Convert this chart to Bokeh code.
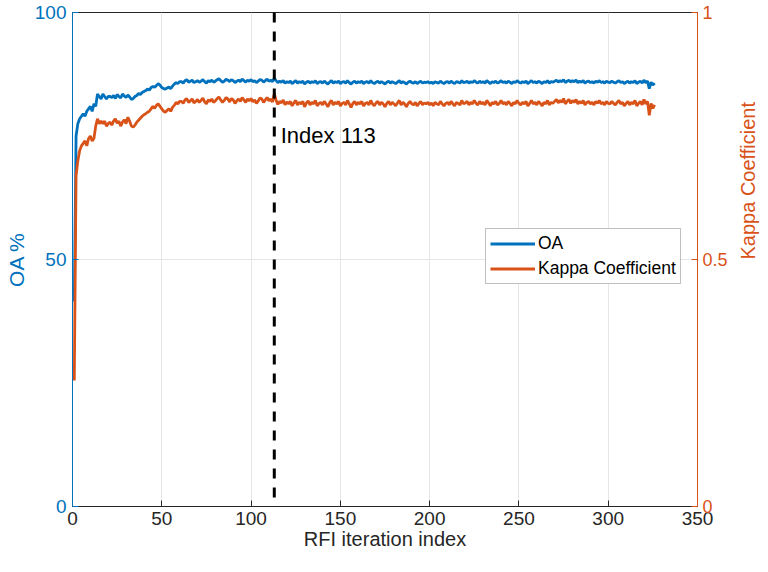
import math
from bokeh.plotting import figure
from bokeh.models import Range1d, LinearAxis, Span, Legend, LegendItem, FixedTicker, Label
from bokeh.embed import file_html
from bokeh.resources import INLINE

# ---------------- data ----------------
oa_pct = [
    41.5, 75.0, 77.5, 78.5, 79.0, 79.5, 79.0, 80.0, 80.5, 81.0,
    80.0, 81.5, 81.0, 83.5, 83.0, 82.5, 83.5, 83.0, 82.5, 83.0,
    83.0, 82.8, 83.2, 82.6, 83.4, 83.0, 82.7, 83.5, 83.1, 82.8,
    83.3, 82.9, 82.4, 82.6, 83.0, 83.2, 83.6, 83.4, 83.8, 84.0,
    84.2, 84.5, 84.3, 84.8, 85.0, 84.9, 85.2, 85.6, 85.3, 84.8,
    84.6, 84.5, 84.7, 84.9, 84.6, 85.1, 85.5, 85.8, 85.6, 86.0,
    86.0, 85.7, 86.2, 86.4, 85.9, 86.1, 86.3, 85.8, 86.0, 86.2,
    85.9, 86.1, 86.4, 86.0, 85.7, 86.2, 86.0, 86.3, 85.9, 86.1,
    86.4, 86.6, 86.2, 85.9, 86.1, 86.5, 86.3, 86.0, 86.4, 86.2,
    85.8, 86.1, 86.3, 86.0, 86.5, 86.2, 85.9, 86.3, 86.1, 86.4,
    86.0, 86.2, 85.8, 86.1, 86.4, 86.3, 85.9, 86.2, 86.5, 86.1,
    86.3, 86.0, 86.7, 86.2, 85.8, 86.1, 85.9, 86.2, 85.7, 86.0,
    85.8, 86.1, 85.6, 85.9, 86.2, 85.7, 86.0, 85.8, 86.1, 85.5,
    85.9, 86.1, 85.7, 86.0, 85.8, 86.2, 85.6, 85.9, 86.0, 85.7,
    86.1, 85.8, 85.5, 85.9, 86.2, 85.7, 86.0, 85.8, 86.1, 85.6,
    85.9, 86.0, 85.7, 86.2, 85.8, 85.5, 85.9, 86.1, 85.7, 86.0,
    85.8, 86.1, 85.6, 85.9, 86.0, 85.7, 86.2, 85.8, 85.6, 85.9,
    86.1, 85.7, 86.0, 85.8, 85.5, 85.9, 86.1, 85.7, 86.0, 85.8,
    85.6, 85.9, 86.2, 85.7, 86.0, 85.8, 85.5, 85.9, 86.1, 85.8,
    85.7, 86.0, 85.6, 85.9, 86.1, 85.7, 85.9, 85.8, 86.0, 85.7,
    85.9, 85.6, 86.0, 85.8, 85.7, 86.1, 85.8, 85.6, 85.9, 86.0,
    85.7, 86.1, 85.8, 85.6, 86.0, 85.9, 85.7, 86.2, 85.8, 85.9,
    86.1, 85.7, 86.0, 85.8, 86.2, 85.9, 85.7, 86.1, 85.8, 86.0,
    85.7, 86.2, 85.9, 85.6, 86.0, 85.8, 86.1, 85.7, 85.9, 86.2,
    85.8, 86.0, 85.7, 86.1, 85.9, 85.6, 86.0, 85.8, 86.2, 85.9,
    85.7, 86.0, 85.8, 86.1, 85.6, 85.9, 86.2, 85.8, 86.0, 85.7,
    86.1, 85.9, 85.6, 86.0, 85.8, 86.2, 85.7, 86.0, 85.9, 86.1,
    86.3, 85.9, 86.2, 86.0, 86.4, 85.8, 86.1, 86.3, 85.9, 86.2,
    86.0, 86.3, 85.8, 86.1, 85.9, 86.2, 85.7, 86.0, 86.1, 85.8,
    86.0, 85.7, 86.1, 85.9, 86.2, 85.8, 86.0, 85.7, 86.1, 85.9,
    85.8, 86.1, 85.9, 85.7, 86.0, 86.2, 85.8, 86.0, 85.6, 85.9,
    86.1, 85.7, 86.0, 85.8, 86.2, 85.6, 85.9, 86.1, 85.7, 86.3,
    85.8, 86.1, 84.6, 85.9, 85.3, 85.7,
]

kappa = [
    0.255, 0.670, 0.700, 0.720, 0.730, 0.735, 0.740, 0.730, 0.745, 0.750,
    0.740, 0.745, 0.770, 0.785, 0.775, 0.780, 0.775, 0.780, 0.770, 0.775,
    0.778, 0.772, 0.780, 0.785, 0.776, 0.780, 0.770, 0.778, 0.783, 0.775,
    0.788, 0.780, 0.770, 0.768, 0.772, 0.778, 0.782, 0.786, 0.790, 0.793,
    0.795, 0.798, 0.800, 0.805, 0.810, 0.806, 0.812, 0.815, 0.810, 0.805,
    0.800, 0.798, 0.802, 0.805, 0.800, 0.808, 0.812, 0.818, 0.815, 0.820,
    0.820, 0.816, 0.823, 0.826, 0.818, 0.821, 0.825, 0.817, 0.820, 0.824,
    0.818, 0.822, 0.827, 0.819, 0.815, 0.823, 0.820, 0.825, 0.818, 0.821,
    0.826, 0.829, 0.823, 0.818, 0.822, 0.828, 0.825, 0.819, 0.826, 0.823,
    0.816, 0.821, 0.825, 0.820, 0.828, 0.823, 0.818, 0.825, 0.821, 0.826,
    0.819, 0.823, 0.816, 0.821, 0.827, 0.825, 0.818, 0.823, 0.828, 0.821,
    0.825, 0.819, 0.836, 0.822, 0.814, 0.820, 0.817, 0.823, 0.813, 0.819,
    0.815, 0.820, 0.811, 0.817, 0.822, 0.813, 0.818, 0.815, 0.820, 0.809,
    0.817, 0.821, 0.813, 0.818, 0.815, 0.822, 0.811, 0.816, 0.818, 0.813,
    0.820, 0.815, 0.809, 0.817, 0.822, 0.813, 0.818, 0.815, 0.820, 0.811,
    0.816, 0.818, 0.813, 0.822, 0.815, 0.808, 0.816, 0.820, 0.813, 0.818,
    0.815, 0.820, 0.811, 0.816, 0.818, 0.813, 0.822, 0.815, 0.811, 0.817,
    0.820, 0.813, 0.818, 0.815, 0.809, 0.816, 0.820, 0.813, 0.818, 0.815,
    0.811, 0.817, 0.822, 0.813, 0.818, 0.815, 0.809, 0.816, 0.820, 0.815,
    0.813, 0.818, 0.811, 0.816, 0.820, 0.813, 0.817, 0.815, 0.818, 0.813,
    0.817, 0.811, 0.818, 0.815, 0.813, 0.820, 0.815, 0.811, 0.816, 0.818,
    0.813, 0.820, 0.815, 0.811, 0.818, 0.816, 0.813, 0.822, 0.815, 0.817,
    0.820, 0.813, 0.818, 0.815, 0.822, 0.816, 0.813, 0.820, 0.815, 0.818,
    0.813, 0.822, 0.817, 0.811, 0.818, 0.815, 0.820, 0.813, 0.816, 0.822,
    0.815, 0.818, 0.813, 0.820, 0.816, 0.811, 0.818, 0.815, 0.822, 0.816,
    0.813, 0.818, 0.815, 0.820, 0.811, 0.816, 0.822, 0.815, 0.818, 0.813,
    0.820, 0.816, 0.811, 0.818, 0.815, 0.822, 0.813, 0.818, 0.816, 0.820,
    0.824, 0.817, 0.822, 0.818, 0.826, 0.815, 0.820, 0.824, 0.816, 0.822,
    0.818, 0.824, 0.815, 0.820, 0.816, 0.822, 0.813, 0.818, 0.820, 0.815,
    0.818, 0.813, 0.820, 0.816, 0.822, 0.815, 0.818, 0.813, 0.820, 0.816,
    0.815, 0.820, 0.816, 0.813, 0.818, 0.822, 0.815, 0.818, 0.811, 0.816,
    0.820, 0.813, 0.818, 0.815, 0.822, 0.811, 0.816, 0.820, 0.813, 0.824,
    0.815, 0.820, 0.792, 0.816, 0.806, 0.813,
]

iteration = list(range(1, len(oa_pct) + 1))
best_index = 113
x_ticks = [0, 50, 100, 150, 200, 250, 300, 350]
oa_ticks = [0, 50, 100]
kappa_ticks = [0, 0.5, 1]

BLUE = "#0072BD"
ORANGE = "#D95319"
DARK = "#262626"
FONT = "Liberation Sans"

p = figure(frame_width=625, frame_height=494, output_backend="svg", toolbar_location=None,
           x_range=Range1d(0, 350), y_range=Range1d(0, 100),
           min_border_left=72, min_border_right=55, min_border_top=12, min_border_bottom=50)
p.extra_y_ranges = {"kappa": Range1d(0, 1)}

p.outline_line_color = DARK
p.outline_line_width = 1
p.background_fill_color = "white"

# grid
p.xgrid.ticker = FixedTicker(ticks=x_ticks)
p.ygrid.ticker = FixedTicker(ticks=oa_ticks)
p.grid.grid_line_color = "#E6E6E6"
p.grid.grid_line_width = 1

# x axis
xa = p.xaxis[0]
xa.ticker = FixedTicker(ticks=x_ticks)
xa.axis_label = "RFI iteration index"
xa.axis_label_text_font = FONT
xa.axis_label_text_font_size = "20px"
xa.axis_label_text_font_style = "normal"
xa.axis_label_text_color = DARK
xa.axis_label_standoff = 0
xa.major_label_text_font = FONT
xa.major_label_text_font_size = "19px"
xa.major_label_text_color = DARK
xa.major_label_standoff = 5
xa.axis_line_color = DARK
xa.major_tick_line_color = DARK
xa.major_tick_in = 6
xa.major_tick_out = 0
xa.minor_tick_line_color = None

# left axis
ya = p.yaxis[0]
ya.ticker = FixedTicker(ticks=oa_ticks)
ya.axis_label = "OA %"
ya.axis_label_text_font = FONT
ya.axis_label_text_font_size = "21px"
ya.axis_label_text_font_style = "normal"
ya.axis_label_text_color = BLUE
ya.axis_label_standoff = 4
ya.major_label_text_font = FONT
ya.major_label_text_font_size = "19px"
ya.major_label_text_color = BLUE
ya.major_label_standoff = 6
ya.axis_line_color = BLUE
ya.major_tick_line_color = BLUE
ya.major_tick_in = 6
ya.major_tick_out = 0
ya.minor_tick_line_color = None

# right axis
ra = LinearAxis(y_range_name="kappa", ticker=FixedTicker(ticks=kappa_ticks))
ra.axis_label = "Kappa Coefficient"
ra.axis_label_orientation = math.pi / 2
ra.axis_label_text_font = FONT
ra.axis_label_text_font_size = "20px"
ra.axis_label_text_font_style = "normal"
ra.axis_label_text_color = ORANGE
ra.axis_label_standoff = 17
ra.major_label_text_font = FONT
ra.major_label_text_font_size = "18px"
ra.major_label_text_color = ORANGE
ra.major_label_standoff = 5
ra.axis_line_color = ORANGE
ra.major_tick_line_color = ORANGE
ra.major_tick_in = 6
ra.major_tick_out = 0
ra.minor_tick_line_color = None
p.add_layout(ra, "right")

# lines
r_oa = p.line(iteration, oa_pct, line_color=BLUE, line_width=2.8)
r_k = p.line(iteration, kappa, line_color=ORANGE, line_width=2.8, y_range_name="kappa")

# vertical dashed marker
p.add_layout(Span(location=best_index, dimension="height", line_color="black",
                  line_width=3, line_dash="10 9"))
p.add_layout(Label(x=best_index + 3.6, y=75.1, text=f"Index {best_index}",
                   text_font=FONT, text_font_size="22px", text_color="black",
                   text_baseline="alphabetic"))

legend = Legend(items=[LegendItem(label="OA", renderers=[r_oa]),
                       LegendItem(label="Kappa Coefficient", renderers=[r_k])],
                location=(413, 222))
legend.label_text_font = FONT
legend.label_text_font_size = "17.5px"
legend.label_text_color = "black"
legend.glyph_width = 45
legend.glyph_height = 19
legend.label_standoff = 3
legend.spacing = 4
legend.padding = 4
legend.margin = 0
legend.border_line_color = "#7F7F7F"
legend.border_line_width = 1
legend.background_fill_color = "white"
legend.background_fill_alpha = 1
p.add_layout(legend, "center")

open("out.html", "w").write(file_html(p, INLINE))
